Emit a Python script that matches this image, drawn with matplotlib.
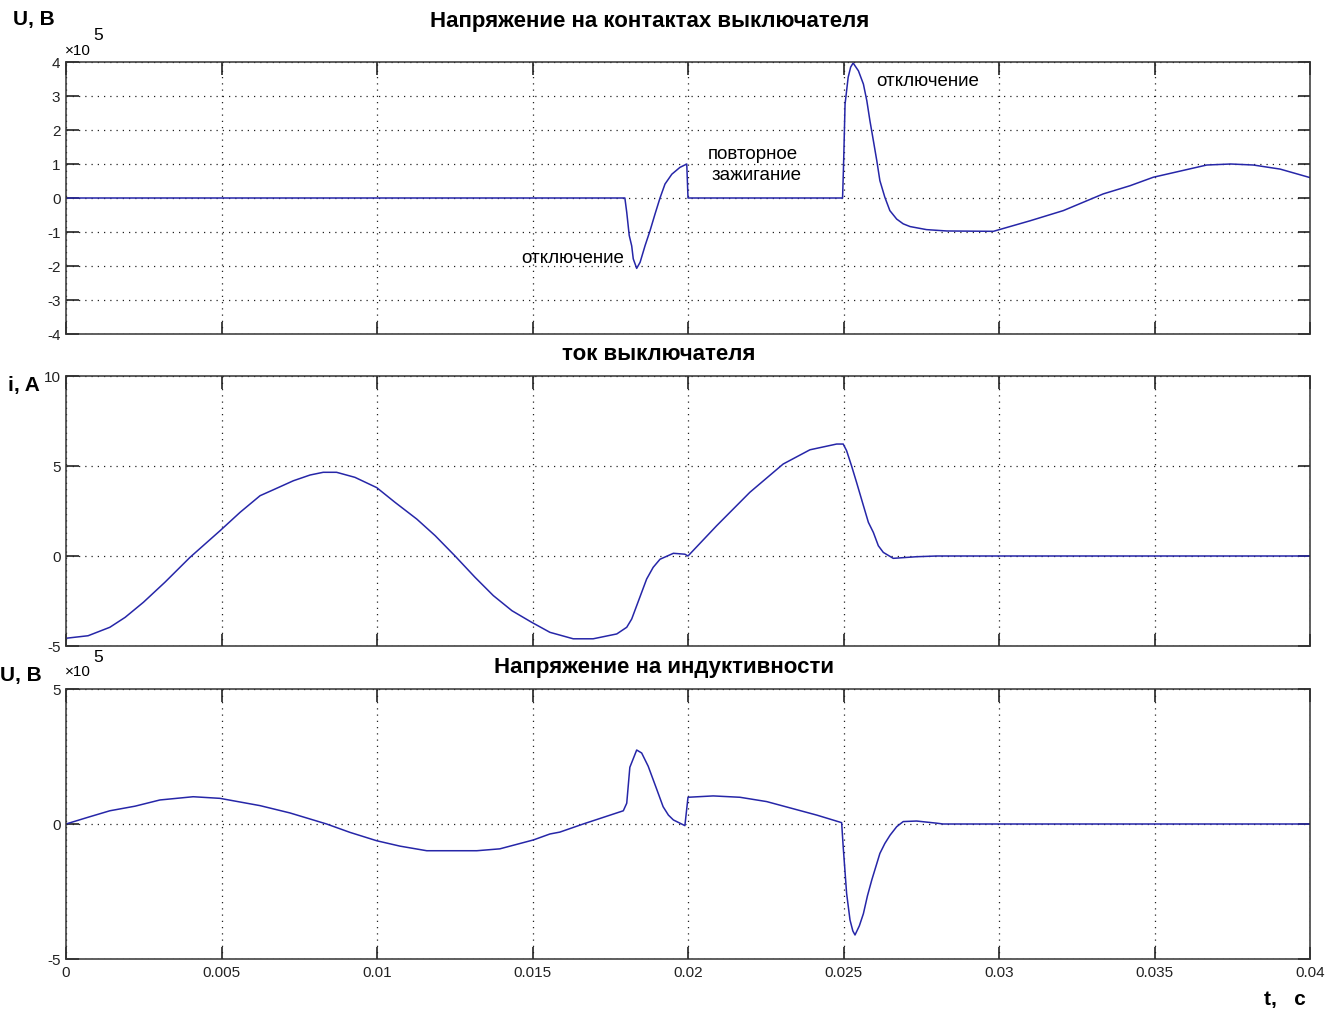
import numpy as np
import matplotlib
matplotlib.use('Agg')
import matplotlib.pyplot as plt

plt.rcParams['font.family'] = ['Liberation Sans', 'DejaVu Sans']
plt.rcParams['axes.unicode_minus'] = False

# switch contact voltage, x1e5 V
t_u = [0, 0.01797, 0.01803, 0.01811, 0.01819, 0.01824, 0.01835, 0.01846, 0.01862, 0.01878,
       0.01894, 0.0191, 0.01926, 0.01948, 0.01974, 0.01996,
       0.02, 0.02497, 0.025, 0.02505, 0.02515, 0.02523, 0.02531, 0.02548, 0.02564, 0.02575,
       0.02585, 0.02596, 0.02607, 0.02617, 0.02633, 0.02649, 0.02671, 0.02692, 0.02714, 0.02767,
       0.02832, 0.02982, 0.031, 0.03207, 0.03335, 0.03421, 0.03496, 0.03582, 0.03668, 0.03745,
       0.03818, 0.03904, 0.04]
u_sw = [0, 0, -0.42, -1.1, -1.41, -1.79, -2.07, -1.89, -1.4, -0.96,
        -0.47, 0, 0.41, 0.7, 0.9, 1.0,
        0, 0, 0.9, 2.76, 3.55, 3.85, 3.97, 3.74, 3.35, 2.86,
        2.27, 1.69, 1.1, 0.51, 0.02, -0.37, -0.62, -0.76, -0.84, -0.93,
        -0.97, -0.98, -0.67, -0.37, 0.12, 0.36, 0.61, 0.79, 0.97, 1.0,
        0.97, 0.85, 0.6]

# switch current, A
t_i = [0, 0.00071, 0.00141, 0.0019, 0.00249, 0.00318, 0.00399, 0.00495, 0.0056, 0.00624,
       0.00672, 0.00731, 0.00785, 0.00827, 0.0087, 0.00929, 0.00999, 0.01058, 0.01128, 0.01187,
       0.01251, 0.01315, 0.01374, 0.01434, 0.01497, 0.01556, 0.01631, 0.01695, 0.01771, 0.01803,
       0.01819, 0.01835, 0.01851, 0.01867, 0.01888, 0.0191, 0.01953, 0.0199, 0.02, 0.02092,
       0.02199, 0.02306, 0.02392, 0.02478, 0.02499, 0.0251, 0.02526, 0.02542, 0.02564, 0.0258,
       0.02596, 0.02612, 0.02628, 0.0266, 0.02735, 0.028, 0.04]
i_sw = [-4.57, -4.43, -3.96, -3.41, -2.57, -1.46, -0.07, 1.4, 2.43, 3.35,
        3.72, 4.18, 4.5, 4.65, 4.65, 4.37, 3.8, 2.98, 2.05, 1.13,
        0, -1.18, -2.2, -3.04, -3.68, -4.24, -4.6, -4.6, -4.33, -3.96,
        -3.5, -2.76, -2.02, -1.28, -0.63, -0.18, 0.15, 0.1, 0, 1.68,
        3.54, 5.11, 5.9, 6.22, 6.22, 5.85, 5.0, 4.09, 2.8, 1.87,
        1.31, 0.57, 0.2, -0.13, -0.04, 0, 0]

# inductance voltage, x1e5 V
t_l = [0, 0.00071, 0.00141, 0.00222, 0.00302, 0.00409, 0.00495, 0.00624, 0.0072, 0.00838,
       0.00913, 0.00999, 0.01074, 0.0116, 0.01321, 0.01395, 0.01503, 0.01556, 0.01588, 0.01663,
       0.01792, 0.01803, 0.01813, 0.01835, 0.01851, 0.01872, 0.01899, 0.0192, 0.01937, 0.01953,
       0.0199, 0.02, 0.02081, 0.02167, 0.02253, 0.02414, 0.02494, 0.02499, 0.0251, 0.02521,
       0.0253, 0.02537, 0.02551, 0.02564, 0.02577, 0.02591, 0.02617, 0.02633, 0.0265, 0.02671,
       0.02692, 0.02735, 0.028, 0.0282, 0.04]
u_l = [0, 0.25, 0.49, 0.66, 0.89, 1.01, 0.95, 0.68, 0.41, 0,
       -0.31, -0.62, -0.82, -0.99, -0.99, -0.92, -0.59, -0.37, -0.3, 0,
       0.49, 0.77, 2.1, 2.74, 2.63, 2.14, 1.3, 0.64, 0.33, 0.15,
       -0.06, 0.99, 1.04, 0.99, 0.83, 0.33, 0.05, -0.84, -2.57, -3.56,
       -3.96, -4.11, -3.77, -3.32, -2.66, -2.07, -1.09, -0.72, -0.41, -0.1,
       0.09, 0.11, 0.03, 0, 0]

xticks = [0, 0.005, 0.01, 0.015, 0.02, 0.025, 0.03, 0.035, 0.04]
xlabels = ['0', '0.005', '0.01', '0.015', '0.02', '0.025', '0.03', '0.035', '0.04']

W, H = 1335, 1012
fig = plt.figure(figsize=(W / 100, H / 100), dpi=100)
line_c = '#2626a8'


def px_ax(top, bottom):
    return fig.add_axes([66 / W, 1 - bottom / H, (1310 - 66) / W, (bottom - top) / H])


def style(ax, ylim, yticks, show_x):
    ax.set_xlim(0, 0.04)
    ax.set_ylim(*ylim)
    ax.set_xticks(xticks)
    ax.set_xticklabels(xlabels if show_x else [])
    ax.set_yticks(yticks)
    ax.set_yticklabels([str(v) for v in yticks])
    ax.tick_params(direction='in', length=9, width=1.2, top=True, right=True,
                   labelsize=11, pad=4, colors='#222222')
    ax.grid(True, ls=(0, (1, 4)), color='#222222', lw=0.9)
    for s in ax.spines.values():
        s.set_color('#333333')
        s.set_linewidth(1.1)


ax1 = px_ax(63, 335)
ax1.plot(t_u, u_sw, color=line_c, lw=1.1)
style(ax1, (-4, 4), list(range(-4, 5)), False)
ax1.text(0.0221, 1.3, 'повторное', fontsize=13.5, ha='center', va='center')
ax1.text(0.0222, 0.68, 'зажигание', fontsize=13.5, ha='center', va='center')
ax1.text(0.01794, -1.74, 'отключение', fontsize=13.5, ha='right', va='center')
ax1.text(0.02604, 3.47, 'отключение', fontsize=13.5, ha='left', va='center')

ax2 = px_ax(377, 647)
ax2.plot(t_i, i_sw, color=line_c, lw=1.1)
style(ax2, (-5, 10), [-5, 0, 5, 10], False)

ax3 = px_ax(690, 960)
ax3.plot(t_l, u_l, color=line_c, lw=1.1)
style(ax3, (-5, 5), [-5, 0, 5], True)

# titles and axis captions
fig.text(650 / W, 1 - 21 / H, 'Напряжение на контактах выключателя', fontsize=16,
         fontweight='bold', ha='center', va='center')
fig.text(659 / W, 1 - 355 / H, 'ток выключателя', fontsize=16,
         fontweight='bold', ha='center', va='center')
fig.text(664 / W, 1 - 668 / H, 'Напряжение на индуктивности', fontsize=16,
         fontweight='bold', ha='center', va='center')
fig.text(13 / W, 1 - 20 / H, 'U, B', fontsize=15, fontweight='bold', ha='left', va='center')
fig.text(40 / W, 1 - 386 / H, 'i, A', fontsize=15, fontweight='bold', ha='right', va='center')
fig.text(42 / W, 1 - 675 / H, 'U, B', fontsize=15, fontweight='bold', ha='right', va='center')
fig.text(1306 / W, 1 - 1000 / H, 't,   c', fontsize=15, fontweight='bold', ha='right', va='center')

# exponent markers
for ytxt, ysup in [(51, 36), (672, 658)]:
    fig.text(65 / W, 1 - ytxt / H, '×10', fontsize=11, ha='left', va='center')
    fig.text(93 / W, 1 - ysup / H, '5', fontsize=12.5, ha='left', va='center')

fig.savefig('out.png', dpi=100)
